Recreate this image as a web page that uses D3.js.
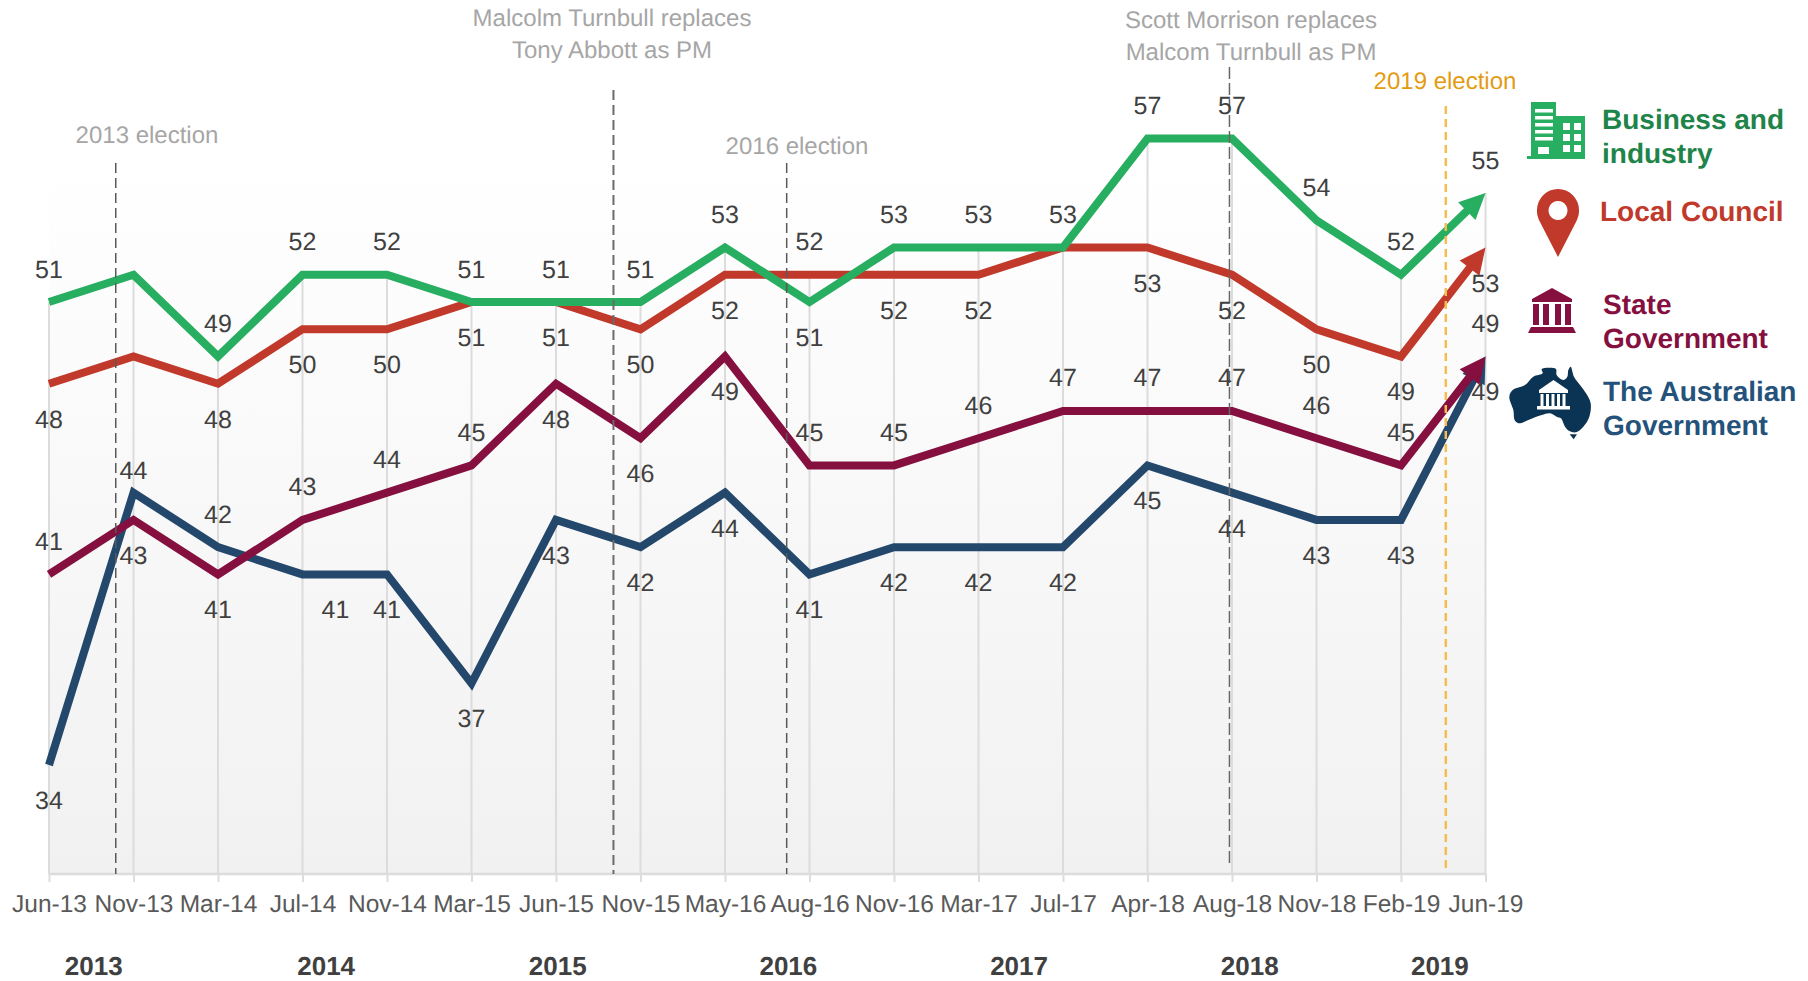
<!DOCTYPE html>
<html><head><meta charset="utf-8">
<style>html,body{margin:0;padding:0;background:#fff}svg{display:block}text{font-family:"Liberation Sans",Arial,sans-serif;text-rendering:geometricPrecision}</style>
<script src="https://cdn.jsdelivr.net/npm/d3@7/dist/d3.min.js"></script>
</head><body>
<svg id="chart" width="1808" height="981"></svg>
<script>
const categories = ["Jun-13","Nov-13","Mar-14","Jul-14","Nov-14","Mar-15","Jun-15","Nov-15","May-16","Aug-16","Nov-16","Mar-17","Jul-17","Apr-18","Aug-18","Nov-18","Feb-19","Jun-19"];
const business = [51,52,49,52,52,51,51,51,53,51,53,53,53,57,57,54,52,55];
const council  = [48,49,48,50,50,51,51,50,52,52,52,52,53,53,52,50,49,53];
const state    = [41,43,41,43,44,45,48,46,49,45,45,46,47,47,47,46,45,49];
const federal  = [34,44,42,41,41,37,43,42,44,41,42,42,42,45,44,43,43,49];
// label side: 1 above the point, -1 below it, 0 not labelled
const businessSide = [1,0,1,1,1,1,1,1,1,-1,1,1,1,1,1,1,1,1];
const councilSide  = [-1,0,-1,-1,-1,-1,-1,-1,-1,1,-1,-1,0,-1,-1,-1,-1,-1];
const stateSide    = [1,-1,-1,1,1,1,-1,-1,-1,1,1,1,1,1,1,1,1,1];
const federalSide  = [-1,1,1,-1,-1,-1,-1,-1,-1,-1,-1,-1,-1,-1,-1,-1,-1,-1];
const years = ["2013","2014","2015","2016","2017","2018","2019"];
const yearAnchors = [0.53,3.28,6.02,8.75,11.48,14.21,16.46];

const svg = d3.select("#chart");
const W = {left:49,right:1485.5,top:160,bottom:874};
const x = d3.scalePoint().domain(categories).range([W.left,W.right]);
const xi = d3.scaleLinear().domain([0,categories.length-1]).range([W.left,W.right]);
const y = d3.scaleLinear().domain([30,51]).range([W.bottom,302]);

const defs = svg.append("defs");
const grad = defs.append("linearGradient").attr("id","bg").attr("x1",0).attr("y1",0).attr("x2",0).attr("y2",1);
grad.append("stop").attr("offset","0%").attr("stop-color","#ffffff");
grad.append("stop").attr("offset","100%").attr("stop-color","#f1f1f1");
svg.append("rect").attr("x",W.left).attr("y",W.top).attr("width",W.right-W.left).attr("height",W.bottom-W.top).attr("fill","url(#bg)");

// drop lines from the highest series value down to the axis
svg.append("g").selectAll("line").data(categories).join("line")
  .attr("x1",d=>x(d)).attr("x2",d=>x(d))
  .attr("y1",(d,i)=>y(Math.max(business[i],council[i],state[i],federal[i])))
  .attr("y2",W.bottom).attr("stroke","#dcdcdc").attr("stroke-width",2);

// category axis
const axis = svg.append("g").attr("transform",`translate(0,${W.bottom})`)
  .call(d3.axisBottom(x).tickSize(8).tickPadding(14));
axis.select(".domain").attr("stroke","#dcdcdc").attr("stroke-width",2.5).attr("d",`M${W.left},0H${W.right}`);
axis.selectAll(".tick line").attr("stroke","#dcdcdc").attr("stroke-width",2);
axis.selectAll("text").attr("fill","#595959").style("font-size","24.5px").style("font-family",'"Liberation Sans",Arial,sans-serif').attr("dy",0).attr("y",38);

// year labels
svg.append("g").selectAll("text").data(years).join("text")
  .attr("x",(d,i)=>xi(yearAnchors[i])).attr("y",975).attr("text-anchor","middle")
  .attr("fill","#404040").attr("font-size",26).attr("font-weight","bold").text(d=>d);

// series lines ending in arrow heads
const seriesList = [
  {name:"federal",values:federal,side:federalSide,color:"#24486C"},
  {name:"state",values:state,side:stateSide,color:"#85103F"},
  {name:"council",values:council,side:councilSide,color:"#C0392B"},
  {name:"business",values:business,side:businessSide,color:"#27AE60"}
];
const headLen = 26, headW = 25;
const line = d3.line().curve(d3.curveLinear);
seriesList.forEach(s=>{
  const pts = s.values.map((v,i)=>[x(categories[i]),y(v)]);
  const tip = pts[pts.length-1], prev = pts[pts.length-2];
  const dx = tip[0]-prev[0], dy = tip[1]-prev[1], L = Math.hypot(dx,dy), ux = dx/L, uy = dy/L;
  const base = [tip[0]-ux*headLen, tip[1]-uy*headLen];
  const shaft = pts.slice(0,-1).concat([[tip[0]-ux*(headLen-2), tip[1]-uy*(headLen-2)]]);
  const g = svg.append("g");
  g.append("path").attr("d",line(shaft)).attr("fill","none").attr("stroke",s.color)
    .attr("stroke-width",8).attr("stroke-linejoin","miter").attr("stroke-miterlimit",3);
  g.append("path").attr("fill",s.color).attr("d",line([tip,
    [base[0]-uy*headW/2, base[1]+ux*headW/2],
    [base[0]+uy*headW/2, base[1]-ux*headW/2]])+"Z");
});

// event markers
const events = [
  {at:0.79,top:163,bottom:874,color:"#595959",w:1.5,dash:"10 5"},
  {at:6.68,top:90,bottom:874,color:"#6b6b6b",w:2,dash:"10 5"},
  {at:8.73,top:163,bottom:874,color:"#595959",w:1.5,dash:"10 5"},
  {at:13.97,top:67,bottom:867,color:"#666666",w:1.5,dash:"12 4"},
  {at:16.53,top:106,bottom:873,color:"#F5BD4F",w:2.5,dash:"8 5"}
];
svg.append("g").selectAll("line").data(events).join("line")
  .attr("x1",d=>xi(d.at)).attr("x2",d=>xi(d.at)).attr("y1",d=>d.top).attr("y2",d=>d.bottom)
  .attr("stroke",d=>d.color).attr("stroke-width",d=>d.w).attr("stroke-dasharray",d=>d.dash);

// data labels
seriesList.forEach(s=>{
  svg.append("g").selectAll("text").data(s.values.map((v,i)=>({v,i,side:s.side[i]})).filter(d=>d.side!==0)).join("text")
    .attr("x",d=>x(categories[d.i]) + (s.name==="federal"&&d.i===3?33:0))
    .attr("y",d=>{
      let off = d.side>0 ? -24.5 : 44;
      if(s.name==="federal"&&d.i===1) off = -14;
      return y(d.v)+off;
    })
    .attr("text-anchor","middle").attr("fill","#404040").attr("font-size",25).text(d=>d.v);
});

// annotations
const notes = [
  {t:"2013 election",x:147,y:143,c:"#A6A6A6"},
  {t:"Malcolm Turnbull replaces",x:612,y:26,c:"#A6A6A6"},
  {t:"Tony Abbott as PM",x:612,y:58,c:"#A6A6A6"},
  {t:"2016 election",x:797,y:154,c:"#A6A6A6"},
  {t:"Scott Morrison replaces",x:1251,y:28,c:"#A6A6A6"},
  {t:"Malcom Turnbull as PM",x:1251,y:60,c:"#A6A6A6"},
  {t:"2019 election",x:1445,y:89,c:"#E39B12"}
];
svg.append("g").selectAll("text").data(notes).join("text")
  .attr("x",d=>d.x).attr("y",d=>d.y).attr("text-anchor","middle").attr("fill",d=>d.c).attr("font-size",24).text(d=>d.t);

// legend text
const legend = [
  {t:"Business and",x:1602,y:129,c:"#1E8449"},
  {t:"industry",x:1602,y:163,c:"#1E8449"},
  {t:"Local Council",x:1600,y:221,c:"#C0392B"},
  {t:"State",x:1603,y:314,c:"#85103F"},
  {t:"Government",x:1603,y:348,c:"#85103F"},
  {t:"The Australian",x:1603,y:401,c:"#24527A"},
  {t:"Government",x:1603,y:435,c:"#24527A"}
];
svg.append("g").selectAll("text").data(legend).join("text")
  .attr("x",d=>d.x).attr("y",d=>d.y).attr("fill",d=>d.c).attr("font-size",28).attr("font-weight","bold").text(d=>d.t);

// legend icons
const bld = svg.append("g").attr("fill","#27AE60");
bld.append("path").attr("d","M1531,102H1556V116H1585V159H1527V156H1531Z");
const whites = [];
[109,116,123,130,137].forEach(v=>whites.push([1535,v,18,3.5]));
whites.push([1538,147,11,7]);
[123,134,145].forEach(v=>{ [1563,1574].forEach(h=>whites.push([h,v,7,7])); });
bld.selectAll("rect").data(whites).join("rect").attr("x",d=>d[0]).attr("y",d=>d[1]).attr("width",d=>d[2]).attr("height",d=>d[3]).attr("fill","#fff");

svg.append("path").attr("fill","#C0392B").attr("fill-rule","evenodd")
  .attr("d","M1558,257 L1540,222 C1537,216 1537,213 1537,210 A21,21 0 0 1 1579,210 C1579,213 1579,216 1576,222 Z M1558,201 a9.5,9.5 0 1 0 0.01,0 Z");

function temple(g,ox,oy,fg){
  g.append("path").attr("fill",fg).attr("d",`M${ox+24},${oy} L${ox+44},${oy+11} V${oy+14} H${ox+4} V${oy+11} Z`);
  [5,15,27,37].forEach(v=>g.append("rect").attr("fill",fg).attr("x",ox+v).attr("y",oy+16).attr("width",6).attr("height",21));
  g.append("path").attr("fill",fg).attr("d",`M${ox+3},${oy+39} H${ox+45} L${ox+48},${oy+45} H${ox} Z`);
}
temple(svg.append("g"),1528,288,"#85103F");

const auPts = [[212,35],[222,65],[240,90],[258,115],[272,145],[268,185],[250,215],[228,232],[208,228],[195,215],[183,190],[170,185],[150,175],[125,180],[85,195],[60,205],[45,197],[40,165],[28,125],[38,105],[75,90],[100,65],[128,55],[125,42],[150,38],[168,42],[170,60],[190,75],[202,65],[205,45]];
const auG = svg.append("g").attr("transform","translate(1500,355) scale(0.3333)");
auG.append("path").attr("fill","#0B3353").attr("d",d3.line().curve(d3.curveCatmullRomClosed.alpha(0.5))(auPts));
auG.append("path").attr("fill","#0B3353").attr("d","M209,238H231L221,253Z");
const au2 = svg.append("g");
au2.append("path").attr("fill","#fff").attr("d","M1553.5,380 L1568,390 V393 H1539 V390 Z");
[1541,1546.5,1552,1557.5,1563].forEach(v=>au2.append("rect").attr("fill","#fff").attr("x",v-0.5).attr("y",394).attr("width",3).attr("height",14));
au2.append("rect").attr("fill","#fff").attr("x",1537).attr("y",406).attr("width",33).attr("height",3.5);
</script>
</body></html>
